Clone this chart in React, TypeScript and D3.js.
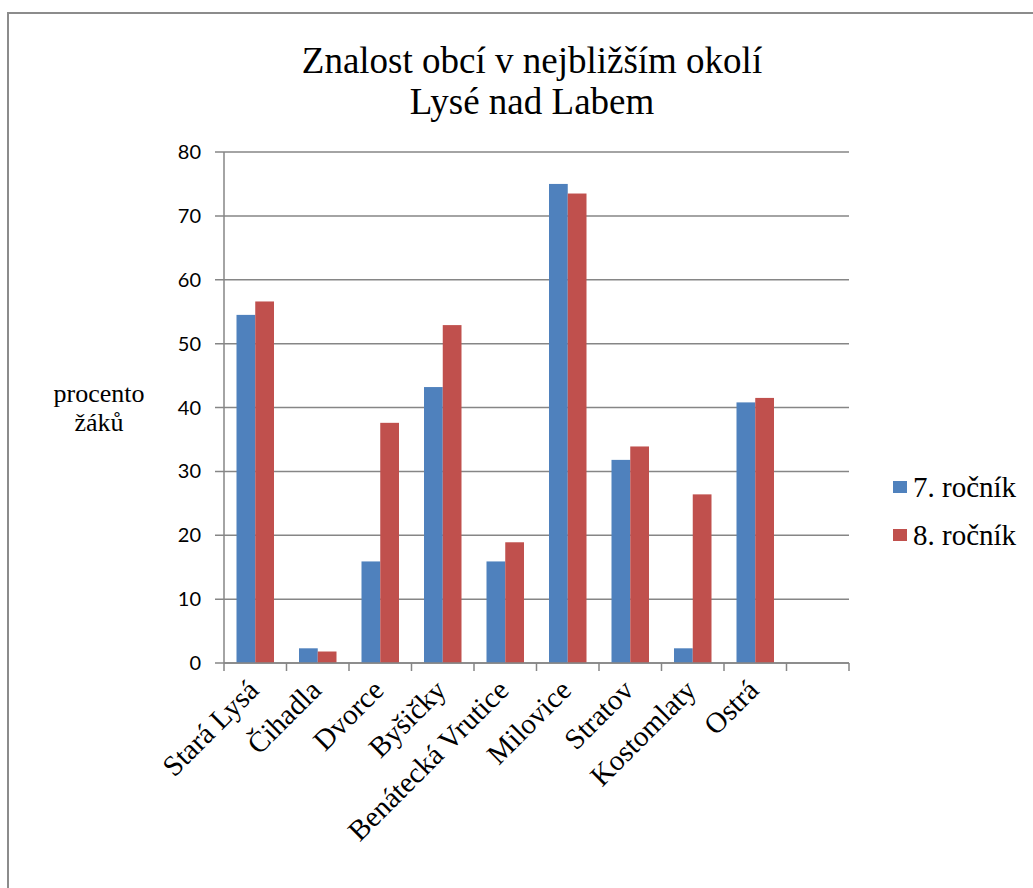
import React from 'react';
import { scaleBand, scaleLinear } from 'd3';

const CATEGORIES = [
  'Stará Lysá',
  'Čihadla',
  'Dvorce',
  'Byšičky',
  'Benátecká Vrutice',
  'Milovice',
  'Stratov',
  'Kostomlaty',
  'Ostrá',
  '',
];
const SERIES_NAMES = ['7. ročník', '8. ročník'];
const GRADE_7 = [54.5, 2.3, 15.9, 43.2, 15.9, 75.0, 31.8, 2.3, 40.8, null];
const GRADE_8 = [56.6, 1.8, 37.6, 52.9, 18.9, 73.5, 33.9, 26.4, 41.5, null];
const Y_TICKS = [0, 10, 20, 30, 40, 50, 60, 70, 80];
const TITLE_LINES = ['Znalost obcí v nejbližším okolí', 'Lysé nad Labem'];
const Y_TITLE_LINES = ['procento', 'žáků'];

const COLORS = ['#4F81BD', '#C0504D'];
const GRID = '#868686';
const SERIF = '"Liberation Serif", "Times New Roman", serif';
const SANS = 'Lato, Calibri, "Liberation Sans", sans-serif';

const WIDTH = 1033;
const HEIGHT = 888;
const PLOT = { left: 224, right: 849, top: 152, bottom: 663 };

export default function App() {
  const x = scaleBand<string>()
    .domain(CATEGORIES.map((c, i) => `${i}`))
    .range([PLOT.left, PLOT.right])
    .paddingInner(0.4)
    .paddingOuter(0.2);
  const step = (PLOT.right - PLOT.left) / CATEGORIES.length;
  const y = scaleLinear().domain([0, 80]).range([PLOT.bottom, PLOT.top]);
  const barW = x.bandwidth() / 2;
  const series = [GRADE_7, GRADE_8];

  return (
    <svg
      width={WIDTH}
      height={HEIGHT}
      style={{ position: 'absolute', left: 0, top: 0, background: '#fff' }}
    >
      {/* chart frame, runs off the right and bottom edges */}
      <rect x={8} y={13} width={1100} height={1000} fill="none" stroke="#8c8c8c" strokeWidth={2} />

      {TITLE_LINES.map((t, i) => (
        <text
          key={t}
          x={532}
          y={73 + i * 41}
          textAnchor="middle"
          fontFamily={SERIF}
          fontSize={37}
          fill="#000"
        >
          {t}
        </text>
      ))}

      {/* gridlines + y labels */}
      {Y_TICKS.map((t) => (
        <g key={t}>
          <line x1={PLOT.left - 9} x2={PLOT.right} y1={y(t)} y2={y(t)} stroke={GRID} strokeWidth={1.5} />
          <text
            x={201}
            y={y(t)}
            dy="0.35em"
            textAnchor="end"
            fontFamily={SANS}
            fontSize={20}
            fill="#000"
          >
            {t}
          </text>
        </g>
      ))}

      {/* bars */}
      {series.map((vals, s) =>
        vals.map((v, i) =>
          v == null ? null : (
            <rect
              key={`${s}-${i}`}
              x={(x(`${i}`) as number) + s * barW}
              y={y(v)}
              width={barW}
              height={y(0) - y(v)}
              fill={COLORS[s]}
            />
          )
        )
      )}

      {/* axes */}
      <line x1={PLOT.left} x2={PLOT.left} y1={PLOT.top} y2={PLOT.bottom} stroke={GRID} strokeWidth={1.5} />
      <line x1={PLOT.left} x2={PLOT.right} y1={PLOT.bottom} y2={PLOT.bottom} stroke={GRID} strokeWidth={1.5} />
      {CATEGORIES.map((c, i) => (
        <line
          key={`tick-${i}`}
          x1={PLOT.left + i * step}
          x2={PLOT.left + i * step}
          y1={PLOT.bottom}
          y2={PLOT.bottom + 8}
          stroke={GRID}
          strokeWidth={1.5}
        />
      ))}
      <line x1={PLOT.right} x2={PLOT.right} y1={PLOT.bottom} y2={PLOT.bottom + 8} stroke={GRID} strokeWidth={1.5} />

      {/* category labels */}
      {CATEGORIES.map((c, i) => {
        const cx = (x(`${i}`) as number) + x.bandwidth() / 2 + 5;
        const cy = PLOT.bottom + 29;
        return (
          <text
            key={`lab-${i}`}
            x={cx}
            y={cy}
            textAnchor="end"
            transform={`rotate(-45, ${cx}, ${cy})`}
            fontFamily={SERIF}
            fontSize={29}
            fill="#000"
          >
            {c}
          </text>
        );
      })}

      {/* y title */}
      {Y_TITLE_LINES.map((t, i) => (
        <text
          key={t}
          x={99}
          y={402 + i * 29}
          textAnchor="middle"
          fontFamily={SERIF}
          fontSize={26}
          fill="#000"
        >
          {t}
        </text>
      ))}

      {/* legend */}
      {SERIES_NAMES.map((name, i) => (
        <g key={name} transform={`translate(893, ${487 + i * 48})`}>
          <rect x={0} y={-6} width={14} height={12} fill={COLORS[i]} />
          <text x={20} y={10} fontFamily={SERIF} fontSize={29} fill="#000">
            {name}
          </text>
        </g>
      ))}
    </svg>
  );
}
